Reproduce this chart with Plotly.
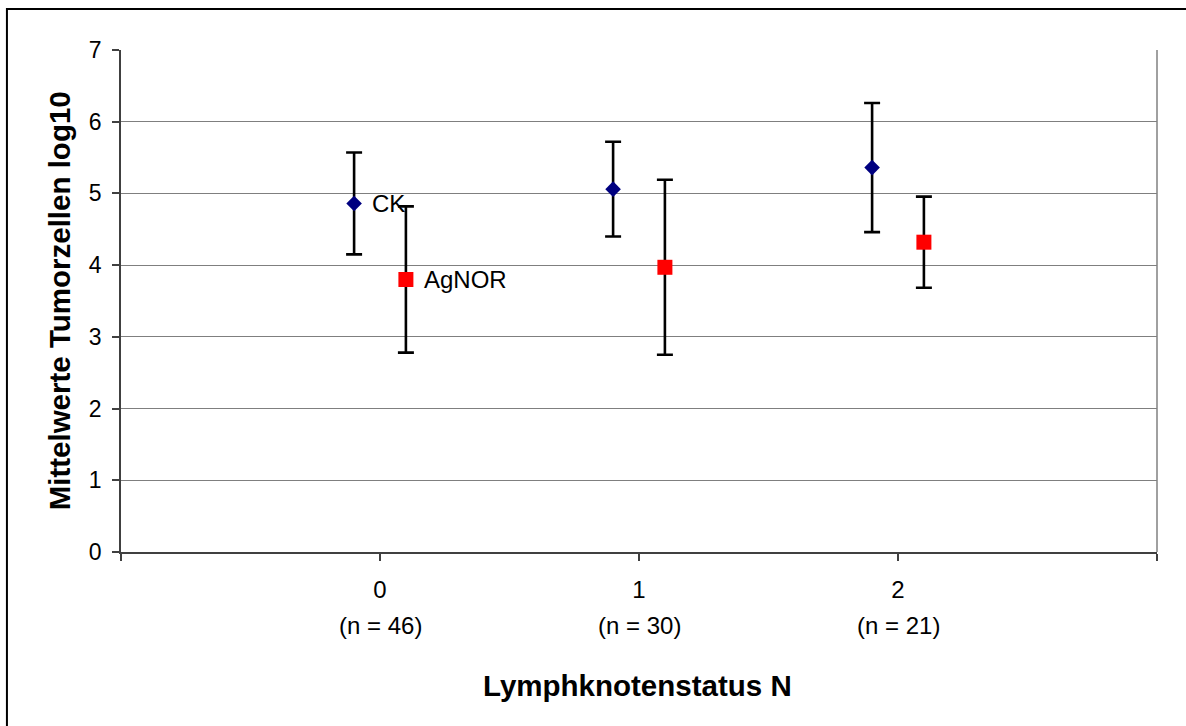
import plotly.graph_objects as go

# Lymph node status groups and their sample sizes
categories = [0, 1, 2]
group_sizes = [46, 30, 21]

# Mean tumour cell counts (log10) with error bar half-widths
ck_means = [4.86, 5.06, 5.36]
ck_errors = [0.71, 0.66, 0.90]
agnor_means = [3.80, 3.97, 4.32]
agnor_errors = [1.02, 1.22, 0.635]

series_names = ["CK", "AgNOR"]
y_ticks = [0, 1, 2, 3, 4, 5, 6, 7]

FONT = "Arial, 'Liberation Sans', sans-serif"
OFFSET = 0.1

fig = go.Figure()

ck_x = [c - OFFSET for c in categories]
agnor_x = [c + OFFSET for c in categories]

fig.add_trace(go.Scatter(
    x=ck_x, y=ck_means, mode="markers", name=series_names[0],
    marker=dict(symbol="diamond", size=12, color="#000080", line=dict(width=0)),
    error_y=dict(type="data", array=ck_errors, visible=True,
                 color="#000000", thickness=2.6, width=8),
    cliponaxis=False,
))

fig.add_trace(go.Scatter(
    x=agnor_x, y=agnor_means, mode="markers", name=series_names[1],
    marker=dict(symbol="square", size=15, color="#FF0000", line=dict(width=0)),
    error_y=dict(type="data", array=agnor_errors, visible=True,
                 color="#000000", thickness=2.6, width=8),
    cliponaxis=False,
))

annotations = []

# Series name labels next to the first point of each series
for name, xs, ys in zip(series_names, [ck_x, agnor_x], [ck_means, agnor_means]):
    annotations.append(dict(
        x=xs[0], y=ys[0], xref="x", yref="y",
        text=name, showarrow=False, xanchor="left", yanchor="middle",
        xshift=16, yshift=0,
        font=dict(family=FONT, size=24, color="#000000"),
    ))

# Sample-size captions under each category label
for c, n in zip(categories, group_sizes):
    annotations.append(dict(
        x=c, xref="x", y=-0.147, yref="paper",
        text=f"(n = {n})", showarrow=False,
        xanchor="center", yanchor="middle",
        font=dict(family=FONT, size=24, color="#000000"),
    ))

# Axis titles
annotations.append(dict(
    x=0.4985, xref="paper", y=-0.265, yref="paper",
    text="<b>Lymphknotenstatus N</b>", showarrow=False,
    xanchor="center", yanchor="middle",
    font=dict(family=FONT, size=29.5, color="#000000"),
))
annotations.append(dict(
    x=-0.0595, xref="paper", y=0.5, yref="paper",
    text="<b>Mittelwerte Tumorzellen log10</b>", showarrow=False,
    textangle=-90, xanchor="center", yanchor="middle",
    font=dict(family=FONT, size=29.5, color="#000000"),
))

shapes = [
    # right border of the plot area
    dict(type="line", xref="paper", yref="paper", x0=1, x1=1, y0=0, y1=1,
         line=dict(color="#808080", width=1.5)),
    # outer chart frame
    dict(type="rect", xref="paper", yref="paper",
         x0=-0.1101, x1=1.05, y0=-0.36, y1=1.0816,
         line=dict(color="#000000", width=2), fillcolor="rgba(0,0,0,0)"),
]

fig.update_layout(
    width=1186, height=726,
    margin=dict(l=121, r=29, t=50, b=174),
    paper_bgcolor="#FFFFFF",
    plot_bgcolor="#FFFFFF",
    showlegend=False,
    annotations=annotations,
    shapes=shapes,
    font=dict(family=FONT, size=24, color="#000000"),
)

fig.update_xaxes(
    range=[-1, 3],
    tickvals=[-1] + categories + [3],
    ticktext=[""] + [str(c) for c in categories] + [""],
    ticks="outside", ticklen=7, tickwidth=1.5, tickcolor="#404040",
    ticklabelstandoff=8,
    showline=True, linecolor="#404040", linewidth=1.5,
    showgrid=False, zeroline=False,
    tickfont=dict(family=FONT, size=24, color="#000000"),
)

fig.update_yaxes(
    range=[0, 7],
    tickvals=y_ticks,
    ticktext=[str(v) for v in y_ticks],
    ticks="outside", ticklen=7, tickwidth=1.5, tickcolor="#404040",
    ticklabelstandoff=6,
    showline=True, linecolor="#404040", linewidth=1.5,
    showgrid=True, gridcolor="#7f7f7f", gridwidth=1,
    zeroline=False,
    tickfont=dict(family=FONT, size=23, color="#000000"),
)

fig.write_html("out.html")
